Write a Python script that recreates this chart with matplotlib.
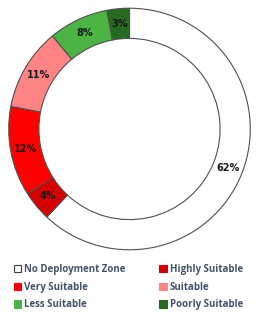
import matplotlib.pyplot as plt
from matplotlib.patches import Patch

# categorias e valores (%)
categorias = ['No Deployment Zone', 'Highly Suitable', 'Very Suitable',
              'Suitable', 'Less Suitable', 'Poorly Suitable']
valores = [62, 4, 12, 11, 8, 3]
cores = ['#FFFFFF', '#D60000', '#FF0000', '#FF8585', '#4BB443', '#276B21']

fig = plt.figure(figsize=(2.59, 3.17), dpi=100)
ax = fig.add_axes([7.5 / 259, 66 / 317, 244 / 259, 244 / 317])

wedges, textos, pcts = ax.pie(
    valores, colors=cores, startangle=90, counterclock=False,
    autopct='%1.0f%%', pctdistance=0.875, radius=1,
    wedgeprops=dict(width=0.25, edgecolor='#505050', linewidth=0.8),
    textprops=dict(fontsize=7, fontweight='bold', color='#1a1a1a'))
ax.set_xlim(-1.01, 1.01)
ax.set_ylim(-1.01, 1.01)
ax.set_aspect('equal')

# legenda em duas colunas (matplotlib preenche por coluna)
ordem = [0, 2, 4, 1, 3, 5]
handles = [Patch(facecolor=cores[i], edgecolor='#404040' if i == 0 else cores[i],
                 linewidth=0.8) for i in ordem]
leg = fig.legend(handles, [categorias[i] for i in ordem], ncol=2,
                 loc='upper left', bbox_to_anchor=(5 / 259, 1 - 255 / 317),
                 frameon=False, handlelength=0.75, handleheight=0.75,
                 handletextpad=0.3, columnspacing=3.5, labelspacing=0.7,
                 prop=dict(family='Open Sans', weight='bold', size=7))
for t in leg.get_texts():
    t.set_color('#44546A')

fig.savefig('out.png', dpi=100)
